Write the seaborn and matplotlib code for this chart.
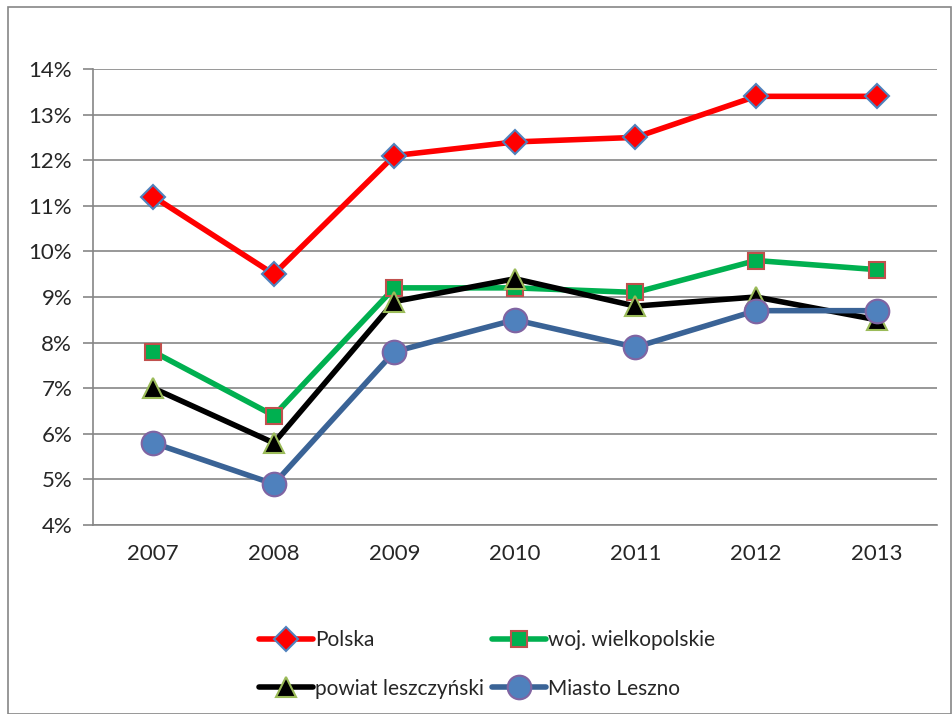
import matplotlib
matplotlib.use("Agg")
import matplotlib.pyplot as plt
import pandas as pd
import seaborn as sns
from matplotlib.patches import Rectangle
from matplotlib.ticker import FuncFormatter, FixedLocator

years = ["2007", "2008", "2009", "2010", "2011", "2012", "2013"]
polska = [11.2, 9.5, 12.1, 12.4, 12.5, 13.4, 13.4]
wielkopolskie = [7.8, 6.4, 9.2, 9.2, 9.1, 9.8, 9.6]
leszczynski = [7.0, 5.8, 8.9, 9.4, 8.8, 9.0, 8.5]
leszno = [5.8, 4.9, 7.8, 8.5, 7.9, 8.7, 8.7]

series = [
    ("Polska", polska, "#FF0000", "D", "#FF0000", "#4F81BD", 12),
    ("woj. wielkopolskie", wielkopolskie, "#00B050", "s", "#00B050", "#C0504D", 12),
    ("powiat leszczyński", leszczynski, "#000000", "^", "#000000", "#9BBB59", 14),
    ("Miasto Leszno", leszno, "#3A6396", "o", "#4F81BD", "#8064A2", 17),
]

sns.set_style("white")
plt.rcParams['font.family'] = ['Lato', 'DejaVu Sans']

fig = plt.figure(figsize=(9.53, 7.14), dpi=100)
ax = fig.add_axes([0.0976, 0.2647, 0.8854, 0.6387])

x = list(range(len(years)))
for name, vals, lc, mk, mfc, mec, ms in series:
    df = pd.DataFrame({"x": x, "y": vals})
    sns.lineplot(data=df, x="x", y="y", ax=ax, color=lc, linewidth=4,
                 marker=mk, markersize=ms, markerfacecolor=mfc,
                 markeredgecolor=mec, markeredgewidth=1.5, label=name)

ax.set_xlim(-0.5, 6.5)
ax.set_ylim(4, 14)
ax.set_yticks(range(4, 15))
ax.yaxis.set_major_formatter(FuncFormatter(lambda v, p: f"{int(v)}%"))
ax.set_xticks(x)
ax.set_xticklabels(years)
ax.xaxis.set_minor_locator(FixedLocator([i - 0.5 for i in range(8)]))
ax.tick_params(axis="x", which="major", length=0, labelsize=16, pad=14)
ax.tick_params(axis="x", which="minor", length=7, color="#868686", width=1.2)
ax.tick_params(axis="y", length=7, color="#868686", width=1.2, labelsize=16, pad=8,
               left=True)
ax.grid(axis="y", color="#868686", linewidth=1.2)
ax.set_axisbelow(True)
for s in ["top", "right"]:
    ax.spines[s].set_visible(False)
for s in ["left", "bottom"]:
    ax.spines[s].set_color("#868686")
    ax.spines[s].set_linewidth(1.2)
ax.set_xlabel("")
ax.set_ylabel("")

handles, labels = ax.get_legend_handles_labels()
order = [0, 2, 1, 3]
ax.legend([handles[i] for i in order], [labels[i] for i in order],
          loc="upper center", bbox_to_anchor=(0.467, -0.19), ncol=2, frameon=False,
          fontsize=15, handlelength=2.6, handletextpad=0.1, columnspacing=0.4,
          labelspacing=1.35)

fig.patches.append(Rectangle((0.008, 0.0), 0.99, 0.99, transform=fig.transFigure,
                             fill=False, edgecolor="#868686", linewidth=1.2))

fig.savefig("out.png", dpi=100)
